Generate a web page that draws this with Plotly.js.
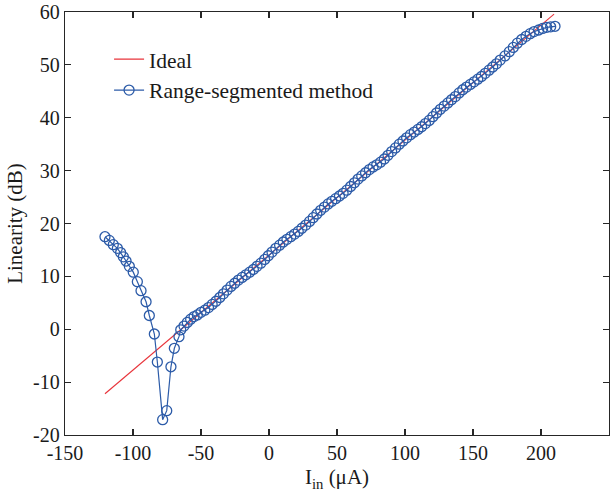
<!DOCTYPE html>
<html>
<head>
<meta charset="utf-8">
<script src="https://cdn.plot.ly/plotly-3.0.1.min.js"></script>
<style>html,body{margin:0;padding:0;background:#fff;}#chart{width:616px;height:495px;}</style>
</head>
<body>
<div id="chart"></div>
<script>
// Ideal line end points
const idealX = [-120.6, 209.6];
const idealY = [-12.2, 59.6];

// Range-segmented method measurements
const methodX = [
  -120.6, -117.4, -114.5, -111.5, -109.1, -107.1, -105.1, -102.7, -99.8, -96.8,
  -94.1, -90.4, -88.0, -84.3, -82.1, -78.2, -75.2, -72.1, -69.6, -66.2,
  -64.9, -62.5, -60.1, -57.6, -55.1, -52.7,
  -50.0, -47.2, -44.5, -41.8, -39.0, -36.2, -33.5, -30.8, -28.0, -25.2,
  -22.5, -19.8, -17.0, -14.2, -11.5, -8.8, -6.0, -3.2, -0.5, 2.2,
  5.0, 7.8, 10.5, 13.2, 16.0, 18.8, 21.5, 24.2, 27.0, 29.8,
  32.5, 35.2, 38.0, 40.8, 43.5, 46.2, 49.0, 51.8, 54.5, 57.2,
  60.0, 62.8, 65.5, 68.2, 71.0, 73.8, 76.5, 79.2, 82.0, 84.8,
  87.5, 90.2, 93.0, 95.8, 98.5, 101.2, 104.0, 106.8, 109.5, 112.2,
  115.0, 117.8, 120.5, 123.2, 126.0, 128.8, 131.5, 134.2, 137.0, 139.8,
  142.5, 145.2, 148.0, 150.8, 153.5, 156.2, 159.0, 161.8, 164.5, 167.2,
  170.0, 173.5, 176.7, 179.6, 182.6, 185.8, 189.0, 192.0, 194.9, 198.3,
  201.2, 204.2, 207.1, 210.3
];
const methodY = [
  17.5, 16.8, 16.0, 15.3, 14.5, 13.7, 12.9, 11.9, 10.8, 9.0,
  7.3, 5.2, 2.6, -0.9, -6.2, -17.1, -15.4, -7.1, -3.6, -1.4,
  -0.1, 0.6, 1.3, 1.9, 2.4, 2.7,
  3.2, 3.6, 4.1, 4.7, 5.3, 6.0, 6.7, 7.4, 8.1, 8.7,
  9.3, 9.8, 10.3, 10.8, 11.3, 11.9, 12.5, 13.2, 13.9, 14.6,
  15.3, 15.9, 16.5, 17.0, 17.5, 18.0, 18.5, 19.1, 19.7, 20.4,
  21.1, 21.8, 22.5, 23.1, 23.7, 24.2, 24.7, 25.2, 25.7, 26.3,
  27.0, 27.7, 28.4, 29.0, 29.6, 30.2, 30.7, 31.1, 31.6, 32.2,
  32.9, 33.6, 34.3, 35.0, 35.6, 36.2, 36.8, 37.3, 37.8, 38.3,
  38.9, 39.5, 40.2, 40.9, 41.6, 42.2, 42.8, 43.4, 44.0, 44.7,
  45.3, 45.8, 46.3, 46.8, 47.3, 47.8, 48.4, 49.0, 49.6, 50.2,
  50.9, 51.7, 52.5, 53.3, 54.1, 54.8, 55.4, 55.9, 56.3, 56.6,
  56.9, 57.1, 57.2, 57.3
];

const xTicks = [-150, -100, -50, 0, 50, 100, 150, 200, 250];
const yTicks = [-20, -10, 0, 10, 20, 30, 40, 50, 60];

const FONT = '"Liberation Serif", "Times New Roman", serif';
const BLUE = '#2C5BA8';
const RED = '#E8333A';
const AX = '#262626';

const traces = [
  {
    x: idealX, y: idealY, type: 'scatter', mode: 'lines', name: 'Ideal',
    line: {color: RED, width: 1.1}, legendgroup: 'a'
  },
  {
    x: methodX, y: methodY, type: 'scatter', mode: 'lines+markers', name: 'Range-segmented method',
    line: {color: BLUE, width: 1.2},
    marker: {symbol: 'circle-open', size: 10, color: BLUE, line: {width: 1.3, color: BLUE}},
    legendgroup: 'b'
  }
];

const axisCommon = {
  showgrid: false, zeroline: false, showline: true, linecolor: AX, linewidth: 1.3,
  mirror: 'ticks', ticks: 'inside', ticklen: 6, tickwidth: 1.1, tickcolor: AX,
  tickfont: {family: FONT, size: 20, color: '#1a1a1a'}
};

const layout = {
  width: 616, height: 495,
  margin: {l: 65, r: 7, t: 12, b: 60},
  paper_bgcolor: '#fff', plot_bgcolor: '#fff',
  showlegend: true,
  legend: {
    x: 0.081, y: 0.937, xanchor: 'left', yanchor: 'top',
    bgcolor: 'rgba(0,0,0,0)', borderwidth: 0,
    font: {family: FONT, size: 21.5, color: '#1a1a1a'},
    traceorder: 'grouped', tracegroupgap: 0
  },
  xaxis: Object.assign({}, axisCommon, {
    range: [-150, 250], tickvals: xTicks, ticktext: xTicks.map(v => v < 0 ? '-' + Math.abs(v) : String(v)),
    title: {text: 'I<sub>in</sub> (μA)', font: {family: FONT, size: 21, color: '#1a1a1a'}, standoff: 6}
  }),
  yaxis: Object.assign({}, axisCommon, {
    range: [-20, 60], tickvals: yTicks, ticktext: yTicks.map(v => v < 0 ? '-' + Math.abs(v) : String(v)),
    title: {text: 'Linearity (dB)', font: {family: FONT, size: 21, color: '#1a1a1a'}, standoff: 4}
  })
};

Plotly.newPlot('chart', traces, layout, {staticPlot: true, displayModeBar: false});
</script>
</body>
</html>
